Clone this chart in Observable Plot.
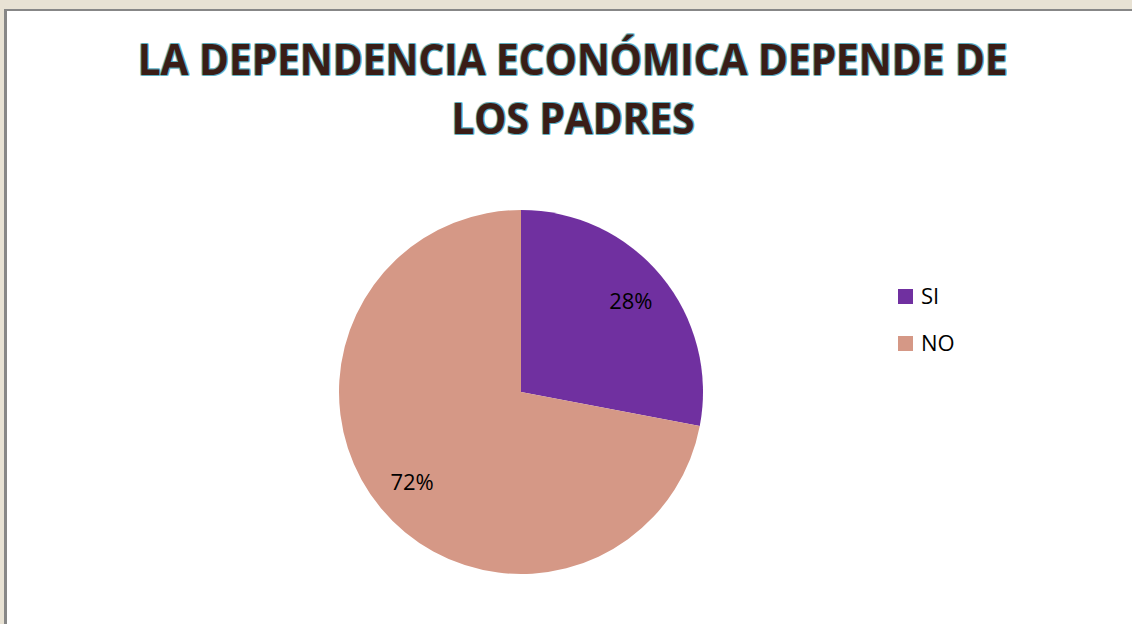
<!DOCTYPE html>
<html>
<head>
<meta charset="utf-8">
<script src="https://cdn.jsdelivr.net/npm/d3@7"></script>
<script src="https://cdn.jsdelivr.net/npm/@observablehq/plot@0.6"></script>
<style>
  html, body { margin: 0; padding: 0; }
  body { width: 1132px; height: 624px; overflow: hidden; position: relative;
         background: #e8e2d4; font-family: "Open Sans", sans-serif; }
  #panel { position: absolute; left: 4px; top: 9px; width: 1140px; height: 640px;
           border-left: 3px solid #878787; border-top: 2px solid #878787; background: #fff; }
  .tline { position: absolute; left: 0; width: 1146px; text-align: center;
           font-family: "Open Sans", sans-serif; font-weight: 700; font-size: 43px;
           line-height: 59px; color: #3a1d16; white-space: nowrap;
           text-shadow: 1px 0 #5fb0c2, -1px 0 #5fb0c2, 0 1px #5fb0c2, 0 -1px #5fb0c2,
                        1px 1px #9fd0da, -1px -1px #9fd0da, 1px -1px #9fd0da, -1px 1px #9fd0da; }
  .tline span { display: inline-block; transform-origin: center; }
  #chart { position: absolute; left: 0; top: 150px; }
  .leg { position: absolute; font-family: "Open Sans", sans-serif; font-size: 22px; color: #000; }
  .leg .sw { position: absolute; width: 15px; height: 15px; }
  .leg .lb { position: absolute; white-space: nowrap; line-height: 30px; }
</style>
</head>
<body>
<div id="panel"></div>
<div class="tline" id="t1" style="top:29px"><span></span></div>
<div class="tline" id="t2" style="top:88px"><span></span></div>
<div id="chart"></div>
<div id="legend"></div>
<script>
// ---- data ----
const titleLines = ["LA DEPENDENCIA ECONÓMICA DEPENDE DE", "LOS PADRES"];
const categories = ["SI", "NO"];
const values = [28, 72];
const labels = ["28%", "72%"];
const colors = ["#7030A0", "#D59886"];

// ---- title ----
const s1 = document.querySelector("#t1 span");
const s2 = document.querySelector("#t2 span");
s1.textContent = titleLines[0];
s2.textContent = titleLines[1];
const k = 870 / s1.getBoundingClientRect().width;
s1.style.transform = `scaleX(${k})`;
s2.style.transform = `scaleX(${k})`;

// ---- pie ----
const data = categories.map((name, i) => ({name, value: values[i], label: labels[i]}));
const arcs = d3.pie().sort(null).value(d => d.value)(data);
const rows = arcs.map(a => ({...a.data, a0: a.startAngle, a1: a.endAngle, mid: (a.startAngle + a.endAngle) / 2}));

const W = 1132, H = 474, cx = 521, cy = 242, r = 182;
const colorFn = d3.scaleOrdinal(categories, colors);

const chart = Plot.plot({
  width: W, height: H, margin: 0,
  style: {background: "transparent", overflow: "visible", fontFamily: "'Open Sans', sans-serif"},
  x: {domain: [-1, 1], range: [cx - r, cx + r], axis: null},
  y: {domain: [-1, 1], range: [cy + r, cy - r], axis: null},
  marks: [
    (index, scales) => {
      const g = d3.create("svg:g");
      const R = scales.x(1) - scales.x(0);
      const arc = d3.arc().innerRadius(0).outerRadius(R);
      g.selectAll("path").data(rows).join("path")
        .attr("transform", `translate(${scales.x(0)},${scales.y(0)})`)
        .attr("d", d => arc({startAngle: d.a0, endAngle: d.a1}))
        .attr("fill", d => colorFn(d.name));
      return g.node();
    },
    Plot.text(rows, {
      x: d => Math.sin(d.mid) * 0.78,
      y: d => Math.cos(d.mid) * 0.78,
      text: "label", fontSize: 22, fill: "#000"
    })
  ]
});
document.getElementById("chart").appendChild(chart);

// ---- legend ----
const legend = document.getElementById("legend");
categories.forEach((c, i) => {
  const top = 296 + i * 47;
  const item = document.createElement("div");
  item.className = "leg";
  item.innerHTML = `<div class="sw" style="left:898px;top:${top - 7}px;background:${colors[i]}"></div>` +
                   `<div class="lb" style="left:921px;top:${top - 16}px">${c}</div>`;
  legend.appendChild(item);
});
</script>
</body>
</html>
